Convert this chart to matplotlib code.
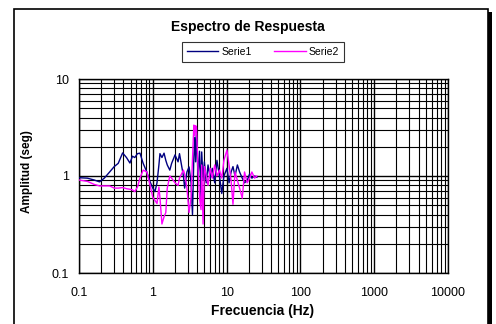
import matplotlib
matplotlib.use("Agg")
import matplotlib.pyplot as plt
from matplotlib.patches import Rectangle
from matplotlib.ticker import FixedLocator, NullFormatter, LogLocator
import numpy as np

plt.rcParams['font.family'] = ['Liberation Sans', 'DejaVu Sans']

# Frequency (Hz) and spectral amplitudes
freq = [0.10, 0.13, 0.16, 0.19, 0.22, 0.26, 0.30, 0.34, 0.39, 0.44,
        0.49, 0.53, 0.57, 0.62, 0.67, 0.74, 0.83, 0.92, 1.00, 1.07,
        1.14, 1.21, 1.25, 1.33, 1.42, 1.50, 1.57, 1.70, 1.80, 2.0,
        2.2, 2.3, 2.6, 2.7, 2.9, 3.1, 3.3, 3.45, 3.6, 3.7,
        3.8, 3.9, 4.1, 4.3, 4.5, 4.6, 4.8, 5.0, 5.3, 5.6,
        6.0, 6.4, 6.9, 7.4, 8.0, 8.6, 9.2, 10.1, 10.8, 11.5,
        12.2, 13.0, 14.0, 15.0, 16.3, 17.5, 19.0, 20.5, 22.0, 24.0,
        25.7]
serie1 = [0.96, 0.95, 0.91, 0.87, 0.95, 1.10, 1.25, 1.35, 1.73, 1.55,
          1.36, 1.60, 1.55, 1.70, 1.72, 1.35, 1.10, 0.87, 0.75, 0.69,
          0.85, 1.30, 1.70, 1.55, 1.72, 1.45, 1.30, 1.15, 1.35, 1.65,
          1.40, 1.70, 1.00, 0.75, 1.10, 1.24, 0.85, 0.40, 1.60, 2.50,
          1.40, 2.90, 1.00, 1.80, 0.60, 1.77, 0.90, 1.40, 0.85, 1.30,
          0.95, 1.20, 0.85, 1.45, 1.00, 0.66, 1.00, 1.20, 0.85, 1.10,
          1.25, 1.00, 1.30, 1.10, 0.95, 0.85, 0.90, 1.05, 0.95, 1.00,
          0.97]
serie2 = [0.91, 0.88, 0.82, 0.79, 0.79, 0.79, 0.75, 0.75, 0.76, 0.74,
          0.73, 0.72, 0.69, 0.77, 0.95, 1.15, 1.10, 0.80, 0.60, 0.56,
          0.52, 0.77, 0.60, 0.32, 0.38, 0.42, 0.75, 1.00, 0.95, 0.85,
          0.80, 0.95, 1.15, 1.05, 0.75, 0.42, 0.60, 1.50, 3.35, 2.60,
          3.30, 3.20, 1.20, 0.60, 0.45, 1.30, 0.32, 1.25, 1.00, 0.80,
          1.20, 0.95, 1.30, 1.00, 1.15, 0.95, 1.45, 1.85, 1.30, 0.90,
          0.51, 1.10, 0.90, 0.75, 0.59, 1.10, 0.85, 0.95, 1.10, 0.95,
          1.00]

x_ticks = [0.1, 1, 10, 100, 1000, 10000]
x_labels = ['0.1', '1', '10', '100', '1000', '10000']
y_ticks = [0.1, 1, 10]
y_labels = ['0.1', '1', '10']

fig = plt.figure(figsize=(4.96, 3.24), dpi=100)

# chart frame with drop shadow
fig.patches.append(Rectangle((17 / 496, -0.05), 475 / 496, 1 - 12 / 324 + 0.05,
                             transform=fig.transFigure, facecolor='black',
                             edgecolor='none', zorder=-2))
fig.patches.append(Rectangle((14 / 496, -0.05), 474 / 496, 1 - 9 / 324 + 0.05,
                             transform=fig.transFigure, facecolor='white',
                             edgecolor='black', linewidth=1.2, zorder=-1))

ax = fig.add_axes([79 / 496, 1 - 273 / 324, 369 / 496, 194 / 324])
ax.set_zorder(2)
ax.set_xscale('log')
ax.set_yscale('log')
ax.set_xlim(0.1, 10000)
ax.set_ylim(0.1, 10)

ax.plot(freq, serie1, color='#000080', linewidth=1.0, label='Serie1', zorder=3)
ax.plot(freq, serie2, color='#ff00ff', linewidth=1.0, label='Serie2', zorder=3)

ax.xaxis.set_major_locator(FixedLocator(x_ticks))
ax.set_xticklabels(x_labels)
ax.yaxis.set_major_locator(FixedLocator(y_ticks))
ax.set_yticklabels(y_labels)
ax.xaxis.set_minor_locator(LogLocator(base=10, subs=np.arange(2, 10)))
ax.yaxis.set_minor_locator(LogLocator(base=10, subs=np.arange(2, 10)))
ax.xaxis.set_minor_formatter(NullFormatter())
ax.yaxis.set_minor_formatter(NullFormatter())
ax.tick_params(which='both', length=0, labelsize=9)
ax.tick_params(axis='x', pad=10)
ax.tick_params(axis='y', pad=7)

ax.grid(True, which='major', color='black', linewidth=1.0)
ax.grid(True, which='minor', color='black', linewidth=0.8)
ax.set_axisbelow(True)
for s in ax.spines.values():
    s.set_color('black')
    s.set_linewidth(1.0)

fig.text(263 / 496, 1 - 311 / 324, 'Frecuencia (Hz)', ha='center', va='center',
         fontsize=10, fontweight='bold')
fig.text(27 / 496, 1 - 172 / 324, 'Amplitud (seg)', ha='center', va='center',
         rotation=90, fontsize=8.5, fontweight='bold')
fig.text(248 / 496, 1 - 27 / 324, 'Espectro de Respuesta', ha='center', va='center',
         fontsize=10, fontweight='bold')

leg = fig.legend(loc='center', bbox_to_anchor=(263 / 496, 1 - 52 / 324), ncol=2,
                 fontsize=7.5, frameon=True, fancybox=False, handlelength=3.0,
                 columnspacing=2.2, borderpad=0.5, handletextpad=0.3)
leg.get_frame().set_edgecolor('black')
leg.get_frame().set_linewidth(0.8)

fig.savefig('out.png', dpi=100)
